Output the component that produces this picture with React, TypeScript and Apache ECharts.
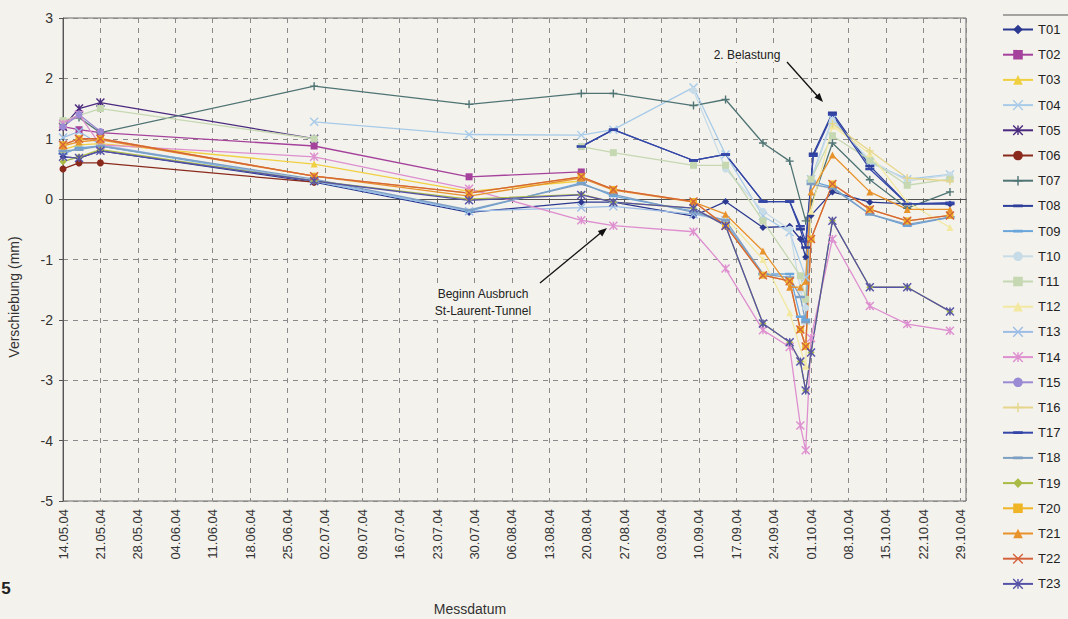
import React, { useEffect, useRef } from 'react';
import * as echarts from 'echarts';

// Measurement dates ("YYYY-MM-DD HH")
const measurementDates = [
  '2004-05-14 00', '2004-05-17 00', '2004-05-21 00', '2004-06-30 00', '2004-07-29 00',
  '2004-08-19 00', '2004-08-25 00', '2004-09-09 00', '2004-09-15 00', '2004-09-22 00',
  '2004-09-27 00', '2004-09-29 00', '2004-09-30 00', '2004-10-01 00', '2004-10-01 10',
  '2004-10-05 00', '2004-10-12 00', '2004-10-19 00', '2004-10-27 00',
];

const _ = null; // not measured
const B = '-'; // gap in the line

const T01 = [0.7, 0.68, 0.8, 0.28, -0.22, -0.05, -0.05, -0.28, -0.04, -0.47, -0.45, -0.66, -0.96, -0.27, _, 0.12, -0.05, -0.08, -0.08];
const T02 = [1.2, 1.15, 1.1, 0.88, 0.37, 0.45, _, _, _, _, _, _, _, _, _, _, _, _, _];
const T03 = [0.82, 0.9, 0.92, 0.58, 0.13, 0.3, _, _, _, _, _, _, _, _, _, _, _, _, _];
const T04 = [_, _, _, 1.28, 1.07, 1.06, 1.15, 1.85, 0.74, -0.28, -0.55, _, -1.3, 0.33, _, 1.33, 0.61, 0.33, 0.41];
const T05 = [1.2, 1.5, 1.6, 1.0, _, _, _, _, _, _, _, _, _, _, _, _, _, _, _];
const T06 = [0.5, 0.6, 0.6, 0.28, _, _, _, _, _, _, _, _, _, _, _, _, _, _, _];
const T07 = [1.3, 1.35, 1.1, 1.87, 1.57, 1.75, 1.75, 1.55, 1.65, 0.93, 0.63, _, -0.36, _, _, 0.93, 0.32, -0.15, 0.12];
const T08 = [_, _, _, _, _, 0.87, 1.15, 0.64, 0.74, -0.04, -0.04, -0.5, -0.8, _, 0.75, 1.43, 0.55, -0.08, -0.08];
const T09 = [0.75, 0.85, 0.88, 0.3, -0.2, 0.27, 0.05, -0.2, -0.4, -1.24, -1.24, -1.95, -2.0, 0.3, _, 0.2, -0.25, -0.44, -0.3];
const T10 = [_, _, _, _, _, _, _, 1.8, 0.5, -0.2, -0.5, -1.5, -1.8, 0.3, _, 1.3, 0.65, 0.3, 0.4];
const T11 = [1.3, _, 1.5, 1.0, B, 0.87, 0.77, 0.56, 0.56, -0.36, _, -1.27, -1.66, 0.33, _, 1.05, 0.65, 0.23, 0.33];
const T12 = [_, _, _, _, _, _, _, _, -0.3, -1.0, -1.88, _, -2.77, -0.2, _, 1.21, 0.75, -0.05, -0.47];
const T13 = [1.02, 1.12, 0.9, 0.3, -0.2, -0.14, -0.12, -0.25, -0.35, _, _, _, _, _, _, _, _, _, _];
const T14 = [1.25, 1.4, 0.9, 0.7, 0.17, -0.35, -0.44, -0.54, -1.15, -2.17, -2.45, -3.75, -4.16, -2.3, _, -0.66, -1.77, -2.07, -2.18];
const T15 = [1.2, 1.4, 1.12, _, _, _, _, _, _, _, _, _, _, _, _, _, _, _, _];
const T16 = [_, _, _, _, _, _, _, _, _, _, _, _, _, _, _, 1.25, 0.8, 0.35, 0.3];
const T17 = [_, _, _, _, _, 0.87, 1.15, 0.64, 0.74, -0.04, -0.04, -0.45, -0.7, _, 0.72, 1.4, 0.5, -0.08, -0.06];
const T18 = [0.8, 0.82, 0.88, 0.33, -0.18, 0.25, 0.08, -0.22, -0.35, -1.24, -1.3, -1.62, -2.04, 0.25, _, 0.18, -0.25, -0.42, -0.3];
const T19 = [0.62, 0.7, 0.82, 0.3, 0.0, 0.08, -0.05, -0.15, -0.44, -2.06, -2.37, -2.69, -3.17, -2.54, _, -0.36, -1.46, -1.46, -1.86];
const T20 = [0.9, 1.0, 1.0, 0.38, 0.1, 0.37, 0.16, -0.04, -0.44, -1.26, -1.36, -2.16, -2.44, -0.66, _, 0.25, -0.17, -0.36, -0.27];
const T21 = [0.88, 0.95, 0.98, 0.38, 0.05, 0.35, 0.15, -0.05, -0.25, -0.86, -1.46, -1.46, -1.36, 0.12, _, 0.73, 0.12, -0.17, -0.17];
const T22 = [0.9, 1.0, 1.0, 0.38, 0.1, 0.37, 0.16, -0.04, -0.44, -1.26, -1.36, -2.16, -2.44, -0.66, _, 0.25, -0.17, -0.36, -0.27];
const T23 = [0.7, 0.68, 0.8, 0.3, -0.02, 0.07, -0.05, -0.15, -0.44, -2.06, -2.37, -2.69, -3.17, -2.54, _, -0.36, -1.46, -1.46, -1.86];

const seriesNames = ['T01', 'T02', 'T03', 'T04', 'T05', 'T06', 'T07', 'T08', 'T09', 'T10', 'T11', 'T12',
  'T13', 'T14', 'T15', 'T16', 'T17', 'T18', 'T19', 'T20', 'T21', 'T22', 'T23'];
const seriesValues = [T01, T02, T03, T04, T05, T06, T07, T08, T09, T10, T11, T12,
  T13, T14, T15, T16, T17, T18, T19, T20, T21, T22, T23];
const seriesColors = ['#2b3990', '#a5439c', '#f0d040', '#a7cbe8', '#4a2a7e', '#8a2a1c', '#4f7474', '#2d3f9a',
  '#6aa6dc', '#c8dce8', '#c5d8b2', '#f2e8a0', '#9cbde6', '#dd8fcf', '#9a8bd4', '#e6d68c', '#3447a8',
  '#7d9fc4', '#a9ba45', '#f0b526', '#e8922c', '#d4633c', '#5552a8'];
const seriesMarkers = ['diamond', 'square', 'triangle', 'cross', 'star', 'circle', 'plus', 'dash', 'dash',
  'circle', 'square', 'triangle', 'cross', 'star', 'circle', 'plus', 'dash', 'dash', 'diamond', 'square',
  'triangle', 'cross', 'star'];

const yTicks = { min: -5, max: 3, step: 1 };
const xRange = { minDay: 0, maxDay: 169, stepDays: 7 };

const START = Date.UTC(2004, 4, 14);
const DAY = 86400000;
function dayOf(s: string) {
  const [d, h] = s.split(' ');
  const [y, m, dd] = d.split('-').map(Number);
  return (Date.UTC(y, m - 1, dd, Number(h)) - START) / DAY;
}
function pad(n: number) { return n < 10 ? '0' + n : '' + n; }
function dateLabel(v: number) {
  if (v % 7 !== 0) return '';
  const dt = new Date(START + v * DAY);
  return pad(dt.getUTCDate()) + '.' + pad(dt.getUTCMonth() + 1) + '.' + String(dt.getUTCFullYear()).slice(2);
}

const SYMBOLS: Record<string, string> = {
  diamond: 'diamond',
  square: 'rect',
  triangle: 'triangle',
  circle: 'circle',
  cross: 'path://M0 0L10 10M10 0L0 10',
  star: 'path://M0 0L10 10M10 0L0 10M5 0L5 10',
  plus: 'path://M5 0L5 10M0 5L10 5',
  dash: 'path://M0 0L10 0L10 0.01L0 0.01ZM0 3.6L10 3.6L10 6.4L0 6.4ZM0 9.99L10 9.99L10 10L0 10Z',
};
function symbolSize(m: string) {
  if (m === 'dash') return 9;
  if (m === 'cross' || m === 'star' || m === 'plus') return 8;
  return 7;
}
function strokeOnly(m: string) { return m === 'cross' || m === 'star' || m === 'plus'; }

const FONT = 'Liberation Sans, Arial, sans-serif';
const BG = '#f4f2ed';

export default function App() {
  const ref = useRef<HTMLDivElement>(null);
  useEffect(() => {
    if (!ref.current) return;
    const chart = echarts.init(ref.current, null, { renderer: 'svg' });
    const days = measurementDates.map(dayOf);

    const series: any[] = seriesNames.map((name, i) => {
      const vals = seriesValues[i];
      const data = days.map((d, k) => [d, vals[k]]).filter((p) => p[1] !== null);
      const c = seriesColors[i];
      const m = seriesMarkers[i];
      const s: any = {
        name,
        type: 'line',
        data,
        connectNulls: false,
        symbol: SYMBOLS[m],
        symbolSize: symbolSize(m),
        showAllSymbol: true,
        lineStyle: { color: c, width: 1.3 },
        itemStyle: { color: c, borderColor: c, borderWidth: strokeOnly(m) ? 1.4 : 0 },
        emphasis: { disabled: true },
        z: 3,
      };
      if (i === 0) {
        s.markLine = {
          silent: true,
          symbol: 'none',
          label: { show: false },
          lineStyle: { color: '#555', type: 'solid', width: 1 },
          data: [{ yAxis: 0 }],
          z: 2,
        };
      }
      return s;
    });

    const legendData = seriesNames.map((name, i) => {
      const m = seriesMarkers[i];
      return {
        name,
        itemStyle: {
          color: seriesColors[i],
          borderColor: seriesColors[i],
          borderWidth: strokeOnly(m) ? 1.4 : 0,
        },
      };
    });

    const noteStyle = { fontSize: 12, fill: '#222', fontFamily: FONT, textAlign: 'center', textVerticalAlign: 'middle', backgroundColor: BG, padding: [1, 3] };

    chart.setOption({
      animation: false,
      backgroundColor: BG,
      textStyle: { fontFamily: FONT },
      grid: { left: 63, right: 102, top: 18, bottom: 118, show: true, borderColor: '#6a6a6a', borderWidth: 1, backgroundColor: 'transparent' },
      xAxis: {
        type: 'value',
        min: xRange.minDay,
        max: xRange.maxDay,
        interval: xRange.stepDays,
        axisLine: { show: true, lineStyle: { color: '#555' } },
        axisTick: { show: true, length: 4, lineStyle: { color: '#555' } },
        axisLabel: { rotate: 90, margin: 8, fontSize: 13, color: '#333', fontFamily: FONT, formatter: dateLabel, showMaxLabel: false },
        splitLine: { show: true, lineStyle: { color: '#8a8a8a', type: [5, 5], width: 1 } },
      },
      yAxis: {
        type: 'value',
        min: yTicks.min,
        max: yTicks.max,
        interval: yTicks.step,
        axisLine: { show: true, lineStyle: { color: '#555' } },
        axisTick: { show: true, length: 4, lineStyle: { color: '#555' } },
        axisLabel: { margin: 10, fontSize: 14, color: '#333', fontFamily: FONT },
        splitLine: { show: true, lineStyle: { color: '#8a8a8a', type: [5, 5], width: 1 } },
      },
      legend: {
        orient: 'vertical',
        left: 998,
        top: 15,
        padding: [8, 0, 0, 4],
        itemWidth: 30,
        itemHeight: 12,
        itemGap: 12.2,
        data: legendData,
        textStyle: { fontSize: 13, lineHeight: 12, color: '#222', fontFamily: FONT },
        selectedMode: false,
      },
      graphic: [
        { type: 'line', shape: { x1: 1003, y1: 15, x2: 1068, y2: 15 }, style: { stroke: '#555', lineWidth: 1 } },
        { type: 'text', x: 14, y: 297, rotation: Math.PI / 2, style: { text: 'Verschiebung (mm)', fontSize: 14, fill: '#333', fontFamily: FONT, textAlign: 'center', textVerticalAlign: 'middle' } },
        { type: 'text', x: 470, y: 609, style: { text: 'Messdatum', fontSize: 14, fill: '#333', fontFamily: FONT, textAlign: 'center', textVerticalAlign: 'middle' } },
        { type: 'text', x: 6, y: 588, style: { text: '5', fontSize: 17, fontWeight: 'bold', fill: '#222', fontFamily: FONT, textAlign: 'center', textVerticalAlign: 'middle' } },
        { type: 'text', x: 747, y: 55, z: 10, style: { text: '2. Belastung', ...noteStyle } },
        { type: 'line', z: 10, shape: { x1: 787, y1: 62, x2: 820, y2: 99 }, style: { stroke: '#111', lineWidth: 1.3 } },
        { type: 'polygon', z: 10, shape: { points: [[823, 102], [814.4, 97.6], [819.6, 93]] }, style: { fill: '#111' } },
        { type: 'text', x: 483, y: 302, z: 10, style: { text: 'Beginn Ausbruch\nSt-Laurent-Tunnel', lineHeight: 17, ...noteStyle } },
        { type: 'line', z: 10, shape: { x1: 540, y1: 283, x2: 603, y2: 231 }, style: { stroke: '#111', lineWidth: 1.3 } },
        { type: 'polygon', z: 10, shape: { points: [[607, 228], [602.2, 236.4], [597.8, 231]] }, style: { fill: '#111' } },
      ],
      series,
    });
    return () => chart.dispose();
  }, []);
  return <div ref={ref} style={{ position: 'absolute', left: 0, top: 0, width: 1068, height: 619 }} />;
}
